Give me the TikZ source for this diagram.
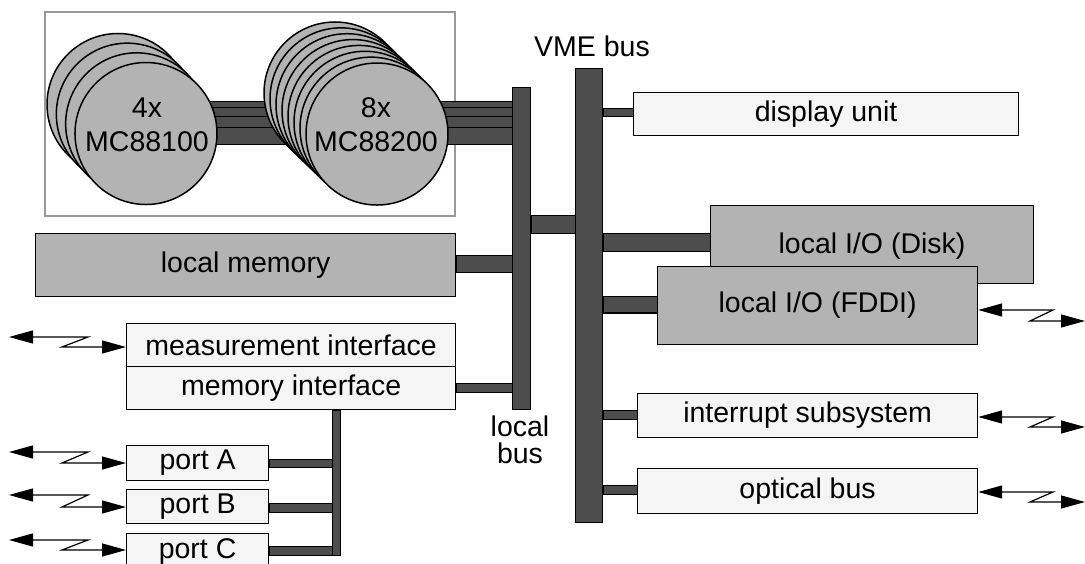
\documentclass[tikz,border=0pt]{standalone}
\usepackage{fontspec}
\setmainfont{Liberation Sans}
\usetikzlibrary{arrows.meta}
\definecolor{lightfill}{HTML}{F5F5F5}
\definecolor{midfill}{HTML}{B3B3B3}
\definecolor{darkfill}{HTML}{4D4D4D}
\definecolor{framegray}{HTML}{999999}
\begin{document}
\begin{tikzpicture}[x=1pt,y=-1pt,
  every node/.style={font=\fontsize{28.5}{34}\selectfont, inner sep=0pt},
  barstyle/.style={fill=darkfill, draw=black, line width=1pt},
  busnode/.style={fill=darkfill, draw=black, line width=1pt, anchor=north west},
  lightbox/.style={draw=black, fill=lightfill, line width=1.2pt, anchor=north west},
  graybox/.style={draw=black, fill=midfill, line width=1.2pt, anchor=north west},
  cpu/.style={draw=black, fill=midfill, line width=1.5pt},
  zig/.style={line width=1.2pt, {Triangle[length=24pt,width=13pt]}-{Triangle[length=24pt,width=13pt]}}
]
\useasboundingbox (0,0) rectangle (1085,564);
\fill[white] (0,0) rectangle (1085,564);

% frame around processors
\draw[framegray, line width=1.5pt] (45,12) rectangle (455,216);

% buses
\node[busnode, minimum width=18pt, minimum height=322pt] (lbus) at (512,87) {};
\node[busnode, minimum width=27pt, minimum height=454pt] (vme) at (575,68) {};

% processor bars (behind the processors)
\foreach \t/\b in {102/116, 108/122, 117/132, 128/145}
  \draw[barstyle] (150,\t) rectangle (lbus.west |- 0,\b);

% 4x MC88100
\foreach \i in {0,...,3}
  \draw[cpu] (118+\i*9.33, 104.5+\i*9.67) circle[radius=71pt];
% 8x MC88200
\foreach \i in {0,...,7}
  \draw[cpu] (335+\i*6, 93+\i*5.86) circle[radius=71pt];

\node[align=center] (p4) at (147,125) {4x\\MC88100};
\node[align=center] (p8) at (376,125) {8x\\MC88200};

% labels
\node[anchor=base] (vmelabel) at (592,57) {VME bus};
\node[align=center, font=\fontsize{28.5}{27}\selectfont] (lbuslabel) at (520,440) {local\\bus};

% boxes
\node[lightbox, minimum width=385pt, minimum height=43pt] (disp) at (633,92) {display unit};
\node[graybox, minimum width=420pt, minimum height=63pt] (lmem) at (35,233) {local memory};
\node[graybox, minimum width=323pt, minimum height=78pt] (disk) at (710,205) {\hspace*{0pt}};
\node at (872,246) (disktext) {local I/O (Disk)};
\node[graybox, minimum width=320pt, minimum height=78pt] (fddi) at (657,266) {local I/O (FDDI)};
\node[lightbox, minimum width=340pt, minimum height=44pt] (intr) at (637,393) {interrupt subsystem};
\node[lightbox, minimum width=340pt, minimum height=45pt] (opt) at (637,468) {optical bus};
\node[lightbox, minimum width=329pt, minimum height=43pt] (meas) at (126,323) {measurement interface};
\node[lightbox, minimum width=329pt, minimum height=43pt] (memif) at (126,366) {memory interface};
\node[lightbox, minimum width=142pt, minimum height=35pt] (pa) at (126,445) {port A};
\node[lightbox, minimum width=142pt, minimum height=34pt] (pb) at (126,489) {port B};
\node[lightbox, minimum width=142pt, minimum height=35pt] (pc) at (126,533) {port C};

% bus connections
\draw[barstyle] (lbus.east |- 0,216) rectangle (vme.west |- 0,234);
\draw[barstyle] (vme.east |- 0,109) rectangle (disp.west |- 0,117);
\draw[barstyle] (vme.east |- 0,234) rectangle (disk.west |- 0,252);
\draw[barstyle] (vme.east |- 0,297) rectangle (fddi.west |- 0,313);
\draw[barstyle] (vme.east |- 0,410) rectangle (intr.west |- 0,419);
\draw[barstyle] (vme.east |- 0,485) rectangle (opt.west |- 0,494);
\draw[barstyle] (lmem.east |- 0,256) rectangle (lbus.west |- 0,273);
\draw[barstyle] (memif.east |- 0,383) rectangle (lbus.west |- 0,392);

% port bus
\coordinate (pbusL) at (332,555);
\coordinate (pbusR) at (340,555);
\draw[barstyle] (pa.east |- 0,459) rectangle (pbusL |- 0,467);
\draw[barstyle] (pb.east |- 0,503) rectangle (pbusL |- 0,512);
\draw[barstyle] (pc.east |- 0,546) rectangle (pbusL |- 0,555);
\draw[barstyle] (pbusL |- memif.south) rectangle (pbusR);

% zigzag links, left side
\coordinate (zm) at (9,337);
\coordinate (za) at (9,452);
\coordinate (zb) at (9,495);
\coordinate (zc) at (9,540);
\draw[zig] (zm) -- (88,337) -- (62,347) -- (meas.west |- 0,347);
\draw[zig] (za) -- (88,452) -- (62,463) -- (pa.west |- 0,463);
\draw[zig] (zb) -- (88,495) -- (62,507) -- (pb.west |- 0,507);
\draw[zig] (zc) -- (88,540) -- (62,550) -- (pc.west |- 0,550);

% zigzag links, right side
\coordinate (zf) at (1085,321);
\coordinate (zi) at (1085,427);
\coordinate (zo) at (1085,502);
\draw[zig] (fddi.east |- 0,310) -- (1053,310) -- (1030,321) -- (zf);
\draw[zig] (intr.east |- 0,417) -- (1053,417) -- (1030,427) -- (zi);
\draw[zig] (opt.east |- 0,492) -- (1053,492) -- (1030,502) -- (zo);
\end{tikzpicture}
\end{document}
